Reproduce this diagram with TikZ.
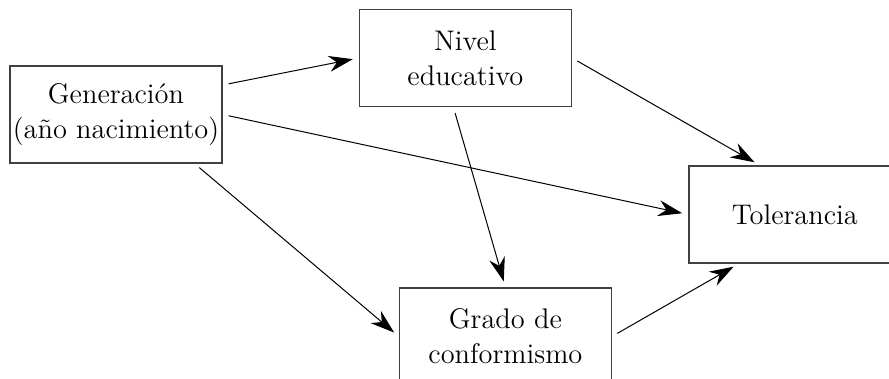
\documentclass[tikz,border=0pt]{standalone}
\usepackage{tikz}
\usetikzlibrary{arrows.meta,positioning}

\begin{document}
\begin{tikzpicture}[
    box/.style={draw=black!75, line width=0.7pt, align=center, inner sep=0pt,
                minimum width=106pt, minimum height=48.5pt,
                font=\fontsize{14.2}{17.5}\selectfont},
    arr/.style={-{Stealth[length=12pt, width=8pt]}, line width=0.5pt,
                shorten <=3pt, shorten >=3pt},
  ]
  \clip (-58pt,-132.25pt) rectangle (386.5pt,57.25pt);
  \node[box] (gen) at (0,0) {Generación\\(año nacimiento)};
  \node[box, right=68pt of gen, yshift=28.25pt] (niv) {Nivel\\educativo};
  \node[box, right=58pt of niv, yshift=-78.25pt] (tol) {Tolerancia};
  \node[box, below=90pt of niv, xshift=20pt] (gra) {Grado de\\conformismo};

  \draw[arr] ([yshift=14.75pt]gen.east) -- (niv.west);
  \draw[arr] (gen.east) -- (tol.west);
  \draw[arr] ([xshift=-14pt]gen.south east) -- (gra.west);
  \draw[arr] (niv.east) -- ([xshift=-17.5pt]tol.north);
  \draw[arr] ([xshift=-6pt]niv.south) -- (gra.north);
  \draw[arr] (gra.east) -- ([xshift=-28pt]tol.south);
\end{tikzpicture}
\end{document}
